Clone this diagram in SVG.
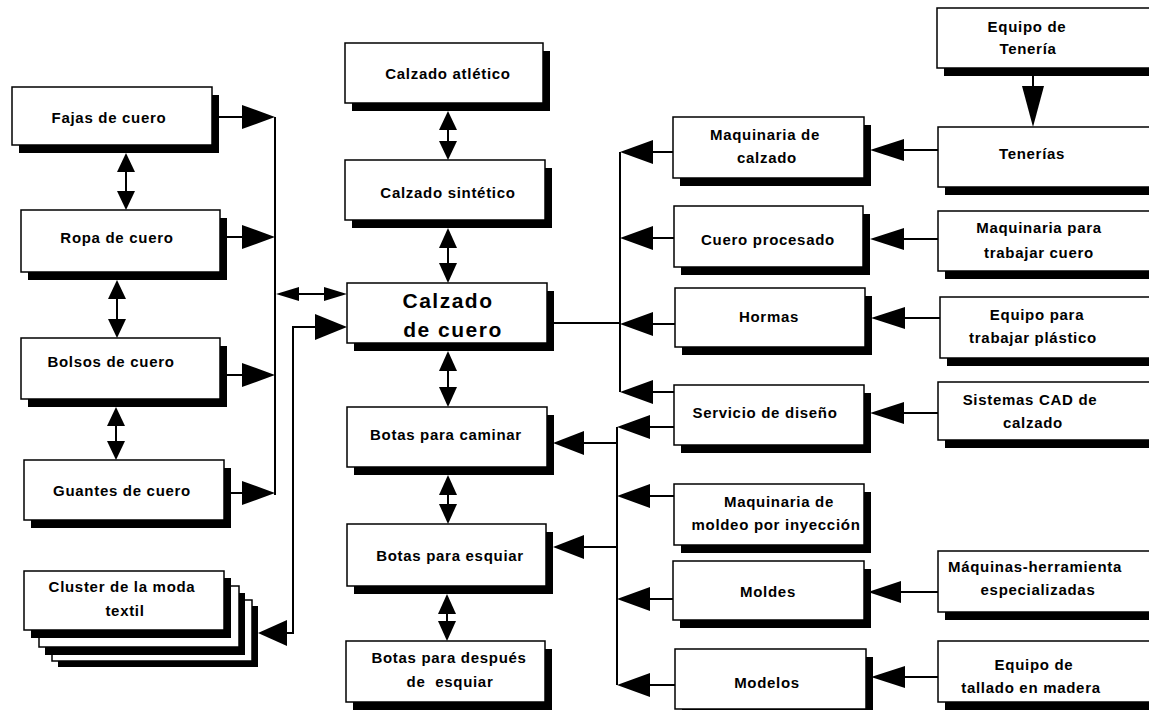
<svg xmlns="http://www.w3.org/2000/svg" width="1149" height="710" viewBox="0 0 1149 710">
  <style>
    .sh { fill: #000; }
    .bx { fill: #fff; stroke: #000; stroke-width: 1.5; }
    .t { font-family: "Liberation Sans", Arial, sans-serif; font-weight: bold; font-size: 15px; letter-spacing: 0.7px; text-anchor: middle; fill: #000; }
    .big { font-size: 21px; letter-spacing: 1.5px; }
    .ln { fill: none; stroke: #000; stroke-width: 2; }
    .hd { fill: #000; stroke: none; }
  </style>
  <rect width="1149" height="710" fill="#fff"/>

  <!-- connectors -->
  <g id="connectors">
    <!-- left column: related leather goods -->
    <path class="ln" d="M126,171 V192 M117,298 V320 M116,425 V442"/>
    <polygon class="hd" points="126,153 117,172 135,172"/>
    <polygon class="hd" points="126,210 117,191 135,191"/>
    <polygon class="hd" points="117,280 108,299 126,299"/>
    <polygon class="hd" points="117,338 108,319 126,319"/>
    <polygon class="hd" points="116,407 107,426 125,426"/>
    <polygon class="hd" points="116,460 107,441 125,441"/>

    <path class="ln" d="M212,117 H243 M220,237 H243 M220,375 H243 M224,493 H243 M275,117 V495"/>
    <polygon class="hd" points="275,117 242,105 242,129"/>
    <polygon class="hd" points="275,237 242,225 242,249"/>
    <polygon class="hd" points="275,375 242,363 242,387"/>
    <polygon class="hd" points="275,493 242,481 242,505"/>

    <!-- trunk to central node -->
    <path class="ln" d="M297,294 H326"/>
    <polygon class="hd" points="276,294 299,287 299,301"/>
    <polygon class="hd" points="347,294 324,287 324,301"/>
    <path class="ln" d="M286,633 H293 V327 H318"/>
    <polygon class="hd" points="347,327 315,314 315,340"/>
    <polygon class="hd" points="258,633 287,620 287,646"/>

    <!-- central column -->
    <path class="ln" d="M448,128 V143 M448,246 V265 M448,369 V389 M448,493 V506 M447,612 V623"/>
    <polygon class="hd" points="448,111 439,130 457,130"/>
    <polygon class="hd" points="448,160 439,141 457,141"/>
    <polygon class="hd" points="448,228 439,248 457,248"/>
    <polygon class="hd" points="448,283 439,263 457,263"/>
    <polygon class="hd" points="448,351 439,371 457,371"/>
    <polygon class="hd" points="448,407 439,387 457,387"/>
    <polygon class="hd" points="448,475 439,495 457,495"/>
    <polygon class="hd" points="448,524 439,504 457,504"/>
    <polygon class="hd" points="447,594 438,614 456,614"/>
    <polygon class="hd" points="447,641 438,621 456,621"/>

    <!-- right trunks: supplier industries -->
    <path class="ln" d="M547,323 H620 M620,152 V392 M653,152 H673 M653,238 H674 M653,324 H675 M653,392 H674"/>
    <polygon class="hd" points="620,152 653,140 653,164"/>
    <polygon class="hd" points="620,238 653,226 653,250"/>
    <polygon class="hd" points="620,324 653,312 653,336"/>
    <polygon class="hd" points="620,392 653,380 653,404"/>

    <path class="ln" d="M617,427 V685 M650,427 H674 M650,496 H674 M650,599 H673 M650,685 H675 M617,443 H583 M617,547 H583"/>
    <polygon class="hd" points="617,427 650,415 650,439"/>
    <polygon class="hd" points="617,496 650,484 650,508"/>
    <polygon class="hd" points="617,599 650,587 650,611"/>
    <polygon class="hd" points="617,685 650,673 650,697"/>
    <polygon class="hd" points="553,443 584,431 584,455"/>
    <polygon class="hd" points="553,547 584,535 584,559"/>

    <!-- far right suppliers -->
    <path class="ln" d="M903,150 H938 M903,239 H938 M903,318 H940 M903,413 H938 M900,592 H938 M903,677 H938 M1033,68 V88"/>
    <polygon class="hd" points="870,150 904,139 904,161"/>
    <polygon class="hd" points="870,239 904,228 904,250"/>
    <polygon class="hd" points="871,318 905,307 905,329"/>
    <polygon class="hd" points="870,413 904,402 904,424"/>
    <polygon class="hd" points="868,592 901,581 901,603"/>
    <polygon class="hd" points="871,677 905,666 905,688"/>
    <polygon class="hd" points="1033,127 1022,86 1044,86"/>
  </g>

  <!-- left column nodes -->
  <g id="fajas">
    <rect class="sh" x="19" y="95" width="200" height="58"/>
    <rect class="bx" x="12" y="87" width="200" height="58"/>
    <text class="t" x="109" y="123">Fajas de cuero</text>
  </g>
  <g id="ropa">
    <rect class="sh" x="28" y="218" width="199" height="62"/>
    <rect class="bx" x="21" y="210" width="199" height="62"/>
    <text class="t" x="117" y="243">Ropa de cuero</text>
  </g>
  <g id="bolsos">
    <rect class="sh" x="28" y="346" width="199" height="61"/>
    <rect class="bx" x="21" y="338" width="199" height="61"/>
    <text class="t" x="111" y="367">Bolsos de cuero</text>
  </g>
  <g id="guantes">
    <rect class="sh" x="31" y="468" width="200" height="60"/>
    <rect class="bx" x="24" y="460" width="200" height="60"/>
    <text class="t" x="122" y="496">Guantes de cuero</text>
  </g>
  <g id="cluster-textil">
    <rect class="sh" x="58" y="606" width="200" height="61"/>
    <rect class="bx" x="52" y="600" width="200" height="61"/>
    <rect class="sh" x="45" y="593" width="200" height="62"/>
    <rect class="bx" x="39" y="586" width="200" height="61"/>
    <rect class="sh" x="31" y="578" width="200" height="60"/>
    <rect class="bx" x="24" y="571" width="200" height="59"/>
    <text class="t" x="122" y="592">Cluster de la moda</text>
    <text class="t" x="125" y="616">textil</text>
  </g>

  <!-- central column nodes -->
  <g id="atletico">
    <rect class="sh" x="352" y="51" width="198" height="60"/>
    <rect class="bx" x="345" y="43" width="198" height="60"/>
    <text class="t" x="448" y="79">Calzado atlético</text>
  </g>
  <g id="sintetico">
    <rect class="sh" x="352" y="168" width="200" height="60"/>
    <rect class="bx" x="345" y="160" width="200" height="60"/>
    <text class="t" x="448" y="198">Calzado sintético</text>
  </g>
  <g id="calzado-cuero">
    <rect class="sh" x="354" y="291" width="200" height="60"/>
    <rect class="bx" x="347" y="283" width="200" height="60"/>
    <text class="t big" x="448" y="308">Calzado</text>
    <text class="t big" x="453" y="337">de cuero</text>
  </g>
  <g id="botas-caminar">
    <rect class="sh" x="354" y="415" width="200" height="60"/>
    <rect class="bx" x="347" y="407" width="200" height="60"/>
    <text class="t" x="446" y="440">Botas para caminar</text>
  </g>
  <g id="botas-esquiar">
    <rect class="sh" x="354" y="532" width="199" height="62"/>
    <rect class="bx" x="347" y="524" width="199" height="62"/>
    <text class="t" x="450" y="561">Botas para esquiar</text>
  </g>
  <g id="botas-despues">
    <rect class="sh" x="353" y="649" width="199" height="61"/>
    <rect class="bx" x="346" y="641" width="199" height="61"/>
    <text class="t" x="449" y="663">Botas para después</text>
    <text class="t" x="450" y="687" xml:space="preserve">de  esquiar</text>
  </g>

  <!-- right-middle column nodes -->
  <g id="maq-calzado">
    <rect class="sh" x="680" y="125" width="191" height="61"/>
    <rect class="bx" x="673" y="117" width="191" height="61"/>
    <text class="t" x="765" y="140">Maquinaria de</text>
    <text class="t" x="767" y="163">calzado</text>
  </g>
  <g id="cuero-procesado">
    <rect class="sh" x="681" y="214" width="189" height="61"/>
    <rect class="bx" x="674" y="206" width="189" height="61"/>
    <text class="t" x="768" y="245">Cuero procesado</text>
  </g>
  <g id="hormas">
    <rect class="sh" x="682" y="296" width="190" height="59"/>
    <rect class="bx" x="675" y="288" width="190" height="59"/>
    <text class="t" x="769" y="322">Hormas</text>
  </g>
  <g id="servicio-diseno">
    <rect class="sh" x="681" y="393" width="190" height="60"/>
    <rect class="bx" x="674" y="385" width="190" height="60"/>
    <text class="t" x="765" y="418">Servicio de diseño</text>
  </g>
  <g id="maq-moldeo">
    <rect class="sh" x="681" y="492" width="190" height="61"/>
    <rect class="bx" x="674" y="484" width="190" height="61"/>
    <text class="t" x="779" y="507">Maquinaria de</text>
    <text class="t" x="776" y="530">moldeo por inyección</text>
  </g>
  <g id="moldes">
    <rect class="sh" x="680" y="569" width="191" height="59"/>
    <rect class="bx" x="673" y="561" width="191" height="59"/>
    <text class="t" x="768" y="597">Moldes</text>
  </g>
  <g id="modelos">
    <rect class="sh" x="682" y="657" width="191" height="60"/>
    <rect class="bx" x="675" y="649" width="191" height="60"/>
    <text class="t" x="767" y="688">Modelos</text>
  </g>

  <!-- far right column nodes -->
  <g id="equipo-teneria">
    <rect class="sh" x="944" y="16" width="222" height="60"/>
    <rect class="bx" x="937" y="8" width="222" height="60"/>
    <text class="t" x="1027" y="32">Equipo de</text>
    <text class="t" x="1028" y="54">Tenería</text>
  </g>
  <g id="tenerias">
    <rect class="sh" x="945" y="135" width="222" height="60"/>
    <rect class="bx" x="938" y="127" width="222" height="60"/>
    <text class="t" x="1032" y="159">Tenerías</text>
  </g>
  <g id="maq-trabajar-cuero">
    <rect class="sh" x="945" y="219" width="222" height="60"/>
    <rect class="bx" x="938" y="211" width="222" height="60"/>
    <text class="t" x="1039" y="233">Maquinaria para</text>
    <text class="t" x="1039" y="258">trabajar cuero</text>
  </g>
  <g id="equipo-plastico">
    <rect class="sh" x="947" y="305" width="222" height="61"/>
    <rect class="bx" x="940" y="297" width="222" height="61"/>
    <text class="t" x="1037" y="320">Equipo para</text>
    <text class="t" x="1033" y="343">trabajar plástico</text>
  </g>
  <g id="sistemas-cad">
    <rect class="sh" x="945" y="390" width="222" height="58"/>
    <rect class="bx" x="938" y="382" width="222" height="58"/>
    <text class="t" x="1030" y="405">Sistemas CAD de</text>
    <text class="t" x="1033" y="428">calzado</text>
  </g>
  <g id="maquinas-herramienta">
    <rect class="sh" x="945" y="559" width="222" height="61"/>
    <rect class="bx" x="938" y="551" width="222" height="61"/>
    <text class="t" x="1035" y="572">Máquinas-herramienta</text>
    <text class="t" x="1038" y="595">especializadas</text>
  </g>
  <g id="equipo-tallado">
    <rect class="sh" x="945" y="649" width="222" height="61"/>
    <rect class="bx" x="938" y="641" width="222" height="61"/>
    <text class="t" x="1034" y="670">Equipo de</text>
    <text class="t" x="1031" y="693">tallado en madera</text>
  </g>
</svg>
